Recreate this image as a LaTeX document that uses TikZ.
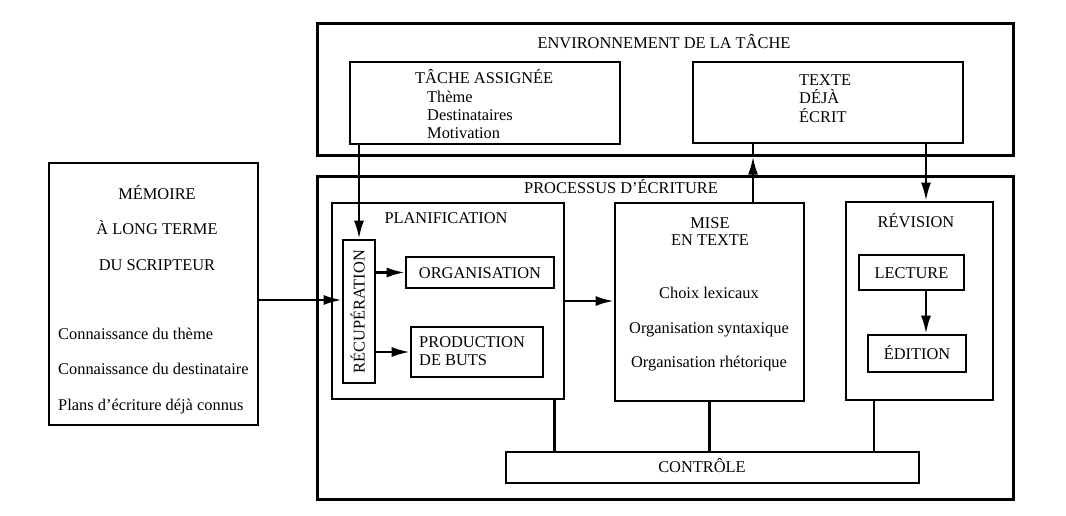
\documentclass[tikz,border=0pt]{standalone}
\usepackage{fontspec}
\setmainfont{Liberation Serif}
\usepackage{tikz}
\usetikzlibrary{arrows.meta,positioning,calc}

\begin{document}
\begin{tikzpicture}[x=1pt, y=-1pt,
   font=\fontsize{16.4}{18}\selectfont,
   box_big/.style={draw, line width=3pt, inner sep=0pt},
   box_small/.style={draw, line width=2.6pt, inner sep=0pt, text height=11pt, text depth=0pt},
   label_c/.style={inner sep=0pt, anchor=base},
   label_l/.style={inner sep=0pt, anchor=base west},
   link/.style={line width=2.4pt},
   arrow_f/.style={link, -{Latex[length=18pt, width=10pt]}}]

   \useasboundingbox (0,0) rectangle (1066,515);

   % environnement de la tache
   \node[box_big, minimum width=696pt, minimum height=132pt] at (665,89) (env) {};
   \node[label_c] at (664,48.5) (env_title) {ENVIRONNEMENT DE LA TÂCHE};

   \node[box_small, minimum width=270pt, minimum height=82pt] at (485,103) (tache) {};
   \node[label_l] at (415,83.5) (tache_title) {TÂCHE ASSIGNÉE};
   \node[label_l] at (427,102.5) (tache_a) {Thème};
   \node[label_l] at (427,120.5) (tache_b) {Destinataires};
   \node[label_l] at (427,138.5) (tache_c) {Motivation};

   \node[box_small, minimum width=270pt, minimum height=81pt] at (828,102.5) (texte) {};
   \node[label_l] at (799,85.5) (texte_a) {TEXTE};
   \node[label_l] at (799,103.5) (texte_b) {DÉJÀ};
   \node[label_l] at (799,122.5) (texte_c) {ÉCRIT};

   % memoire a long terme
   \node[box_small, minimum width=209pt, minimum height=262pt] at (153.5,294) (memoire) {};
   \node[label_c] at (157,199.5) (mem_a) {MÉMOIRE};
   \node[label_c] at (157,234.5) (mem_b) {À LONG TERME};
   \node[label_c] at (157,270.5) (mem_c) {DU SCRIPTEUR};
   \node[label_l] at (58,339.5) (mem_d) {Connaissance du thème};
   \node[label_l] at (58,374.5) (mem_e) {Connaissance du destinataire};
   \node[label_l] at (58,410.5) (mem_f) {Plans d'écriture déjà connus};

   % processus d'ecriture
   \node[box_big, minimum width=696pt, minimum height=323pt] at (665,337.5) (proc) {};
   \node[label_c] at (621,193.5) (proc_title) {PROCESSUS D'ÉCRITURE};

   \node[box_small, minimum width=232pt, minimum height=196pt] at (448,301) (planif) {};
   \node[label_c] at (446,223.5) (planif_title) {PLANIFICATION};
   \node[box_small, minimum width=32pt, minimum height=143pt] at (359,311.5) (recup) {};
   \node[rotate=90, inner sep=0pt, text height=11pt, text depth=0pt] at (recup.center) (recup_txt) {RÉCUPÉRATION};
   \node[box_small, minimum width=148pt, minimum height=31pt] at (480,272.5) (organis) {ORGANISATION};
   \node[box_small, minimum width=132pt, minimum height=50pt] at (477,352) (prod) {};
   \node[label_l] at (419,347.5) (prod_a) {PRODUCTION};
   \node[label_l] at (419,365.5) (prod_b) {DE BUTS};

   \node[box_small, minimum width=189pt, minimum height=198pt] at (709.5,302) (mise) {};
   \node[label_c] at (710,228.5) (mise_a) {MISE};
   \node[label_c] at (710,245.5) (mise_b) {EN TEXTE};
   \node[label_c] at (709,298.5) (mise_c) {Choix lexicaux};
   \node[label_c] at (709,333.5) (mise_d) {Organisation syntaxique};
   \node[label_c] at (709,367.5) (mise_e) {Organisation rhétorique};

   \node[box_small, minimum width=147pt, minimum height=198pt] at (919.5,301) (revis) {};
   \node[label_c] at (916,227.5) (revis_title) {RÉVISION};
   \node[box_small, minimum width=105pt, minimum height=35pt] at (911.5,272.5) (lecture) {LECTURE};
   \node[box_small, minimum width=98pt, minimum height=37pt] at (917,353.5) (edition) {ÉDITION};

   \node[box_small, minimum width=413pt, minimum height=31pt] at (712.5,467.5) (controle) {};
   \node[label_c] at (702,472.5) (controle_txt) {CONTRÔLE};

   % connectors
   \coordinate (up_x) at (753,0);
   \coordinate (down_x) at (926,0);

   \draw[arrow_f] (tache.south -| recup.north) -- (recup.north);
   \draw[arrow_f] ([yshift=-6pt]memoire.east) -- ([yshift=-6pt]memoire.east -| recup.west);
   \draw[arrow_f] (recup.east |- organis.west) -- (organis.west);
   \draw[arrow_f] (recup.east |- prod.west) -- (prod.west);
   \draw[arrow_f] (planif.east) -- (planif.east -| mise.west);

   \draw[arrow_f] (up_x |- mise.north) -- (up_x |- env.south);
   \draw[link] (up_x |- env.south) -- (up_x |- texte.south);
   \draw[arrow_f] (down_x |- texte.south) -- (down_x |- revis.north);
   \draw[arrow_f] (down_x |- lecture.south) -- (down_x |- edition.north);

   \draw[link] ([xshift=-11pt]planif.south east) -- ([xshift=-11pt]planif.south east |- controle.north);
   \draw[link] (mise.south) -- (mise.south |- controle.north);
   \draw[link] ([xshift=29pt]revis.south west) -- ([xshift=29pt]revis.south west |- controle.north);

\end{tikzpicture}
\end{document}
